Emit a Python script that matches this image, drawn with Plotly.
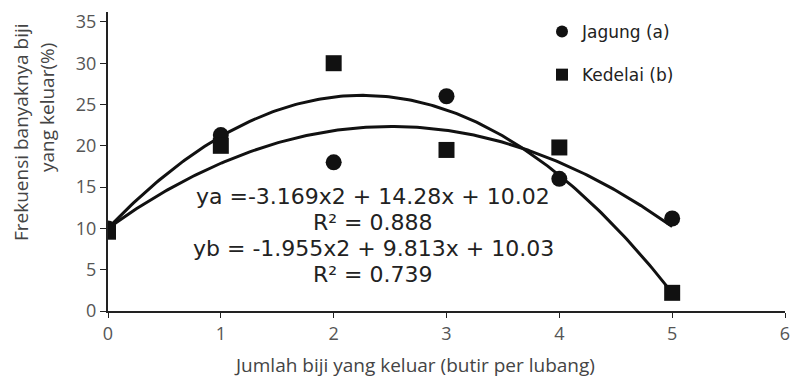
import numpy as np
import plotly.graph_objects as go

x_vals = [0, 1, 2, 3, 4, 5]
jagung = [10.0, 21.3, 18.0, 26.0, 16.0, 11.2]
kedelai = [9.6, 20.0, 30.0, 19.5, 19.8, 2.2]
coef_a = [-3.169, 14.28, 10.02]
coef_b = [-1.955, 9.813, 10.03]
eq_lines = ["ya =-3.169x2 + 14.28x + 10.02", "R² = 0.888",
            "yb = -1.955x2 + 9.813x + 10.03", "R² = 0.739"]
x_ticks = [0, 1, 2, 3, 4, 5, 6]
y_ticks = [0, 5, 10, 15, 20, 25, 30, 35]

L, R, T, B = 108, 6, 12, 70
W, H = 791, 381
PW, PH = W - L - R, H - T - B
AX_FONT = "Open Sans"


def px(x):
    return (x - L) / PW


def py(y):
    return (H - B - y) / PH


xs = np.linspace(0, 5, 200)
fig = go.Figure()
for c in (coef_a, coef_b):
    fig.add_trace(go.Scatter(x=xs, y=np.polyval(c, xs), mode="lines",
                             line=dict(color="#111", width=3), showlegend=False, hoverinfo="skip"))
fig.add_trace(go.Scatter(x=x_vals, y=jagung, mode="markers", name="Jagung (a)", legendgroup="a",
                         marker=dict(symbol="circle", size=16, color="#111")))
fig.add_trace(go.Scatter(x=x_vals, y=kedelai, mode="markers", name="Kedelai (b)", legendgroup="b",
                         marker=dict(symbol="square", size=16, color="#111")))

for i, t in enumerate(eq_lines):
    fig.add_annotation(x=px(373), y=py(196 + 26 * i), xref="paper", yref="paper",
                       text=t, showarrow=False, font=dict(family="DejaVu Sans", size=22, color="#222"),
                       xanchor="center", yanchor="middle")
fig.add_annotation(x=px(414), y=py(365), xref="paper", yref="paper",
                   text="Jumlah biji yang keluar (butir per lubang)", showarrow=False,
                   font=dict(family=AX_FONT, size=19, color="#444"), xanchor="center", yanchor="middle")
fig.add_annotation(x=px(21), y=py(132), xref="paper", yref="paper",
                   text="Frekuensi banyaknya biji", showarrow=False, textangle=-90,
                   font=dict(family=AX_FONT, size=19, color="#444"), xanchor="center", yanchor="middle")
fig.add_annotation(x=px(47), y=py(108), xref="paper", yref="paper",
                   text="yang keluar(%)", showarrow=False, textangle=-90,
                   font=dict(family=AX_FONT, size=19, color="#444"), xanchor="center", yanchor="middle")

fig.update_layout(
    width=W, height=H, margin=dict(l=L, r=R, t=T, b=B),
    paper_bgcolor="white", plot_bgcolor="white",
    legend=dict(x=px(542), y=py(14), xanchor="left", yanchor="top", bgcolor="rgba(0,0,0,0)",
                font=dict(family="DejaVu Sans", size=17, color="#222"), itemsizing="constant",
                tracegroupgap=18, itemwidth=30),
    xaxis=dict(range=[0, 6], tickvals=x_ticks, showgrid=False, zeroline=False, showline=True,
               automargin=False,
               linecolor="#222", linewidth=2, ticks="outside", ticklen=5, tickcolor="#222",
               tickfont=dict(family=AX_FONT, size=18, color="#555")),
    yaxis=dict(range=[0, 36.2], tickvals=y_ticks, showgrid=False, zeroline=False, showline=True,
               automargin=False,
               linecolor="#222", linewidth=2, ticks="outside", ticklen=6, tickcolor="#222",
               tickfont=dict(family=AX_FONT, size=18, color="#555")),
)
fig.write_html("out.html", config={"displayModeBar": False},
               post_script="document.body.style.margin='0';document.body.style.overflow='hidden';")
